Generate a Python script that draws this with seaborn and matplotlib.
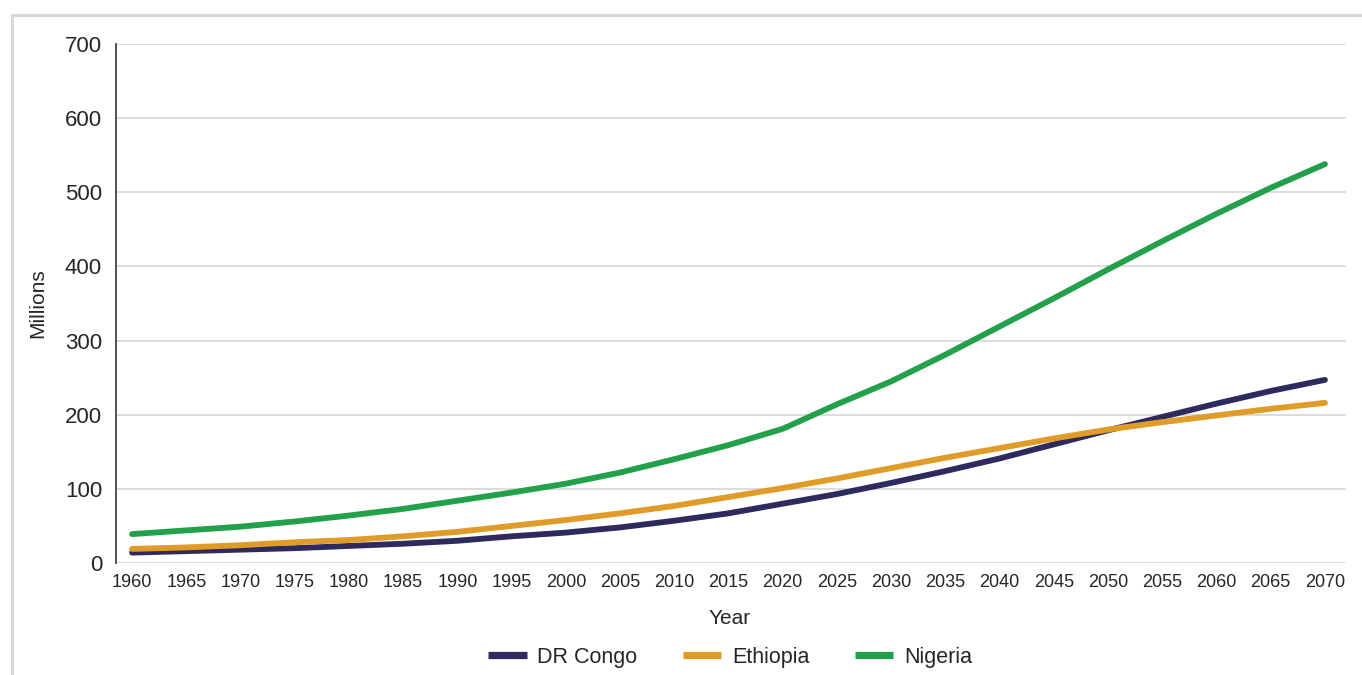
import matplotlib
matplotlib.use("Agg")
import matplotlib.pyplot as plt
import seaborn as sns
import pandas as pd
from matplotlib.lines import Line2D

years = list(range(1960, 2071, 5))
dr_congo = [14, 16, 18, 20, 23, 26, 30, 36, 41, 48, 57, 67, 80, 93, 108, 124, 141, 160, 179, 197, 215, 232, 247]
ethiopia = [19, 21, 24, 28, 31, 36, 42, 50, 58, 67, 77, 89, 101, 114, 128, 142, 155, 168, 180, 190, 199, 208, 216]
nigeria = [39, 44, 49, 56, 64, 73, 84, 95, 107, 122, 140, 159, 181, 214, 245, 281, 319, 357, 396, 434, 471, 506, 538]
series_names = ["DR Congo", "Ethiopia", "Nigeria"]
colors = ["#2e2a5e", "#e09c28", "#22a04a"]
y_ticks = [0, 100, 200, 300, 400, 500, 600, 700]

df = pd.DataFrame({
    "Year": years * 3,
    "Millions": dr_congo + ethiopia + nigeria,
    "Country": [series_names[0]] * len(years) + [series_names[1]] * len(years) + [series_names[2]] * len(years),
})

sns.set_theme(style="white")
plt.rcParams["font.family"] = ["Liberation Sans", "DejaVu Sans"]
text_col = "#262626"

fig = plt.figure(figsize=(13.62, 6.75), dpi=100)
ax = fig.add_axes([116 / 1362, 1 - 563 / 675, (1346 - 116) / 1362, (563 - 44) / 675])

sns.lineplot(data=df, x="Year", y="Millions", hue="Country", palette=dict(zip(series_names, colors)),
             linewidth=4.2, ax=ax, legend=False, solid_capstyle="round", solid_joinstyle="round")

ax.set_xlim(1958.52, 2071.94)
ax.set_ylim(0, 700)
ax.set_xticks(years)
ax.set_xticklabels([str(y) for y in years], fontsize=13, color=text_col)
ax.set_yticks(y_ticks)
ax.set_yticklabels([str(v) for v in y_ticks], fontsize=16, color=text_col)
ax.tick_params(axis="both", length=0)
ax.tick_params(axis="x", pad=8)
ax.tick_params(axis="y", pad=10)
ax.yaxis.grid(True, color="#d9d9d9", linewidth=1.3)
ax.set_axisbelow(True)
for s in ["top", "right", "bottom"]:
    ax.spines[s].set_visible(False)
ax.spines["left"].set_color("#444444")
ax.spines["left"].set_linewidth(1.3)

ax.set_xlabel("")
ax.set_ylabel("")
fig.text(730 / 1362, 1 - 619 / 675, "Year", fontsize=15, color=text_col, ha="center", va="center")
fig.text(38 / 1362, 1 - 303 / 675, "Millions", fontsize=15, color=text_col, ha="center", va="center", rotation=90)

handles = [Line2D([0], [0], color=c, linewidth=5.2, solid_capstyle="butt") for c in colors]
fig.legend(handles, series_names, loc="center", bbox_to_anchor=(730 / 1362, 1 - 657 / 675), ncol=3,
           frameon=False, fontsize=15.5, handlelength=1.8, handletextpad=0.5, columnspacing=2.1,
           labelcolor=text_col)

# outer frame (top and left edges visible)
fig.add_artist(Line2D([12 / 1362, 12 / 1362], [0, 1 - 15 / 675], transform=fig.transFigure,
                      color="#d9d9d9", linewidth=2.2))
fig.add_artist(Line2D([12 / 1362, 1], [1 - 15 / 675, 1 - 15 / 675], transform=fig.transFigure,
                      color="#d9d9d9", linewidth=2.2))

fig.savefig("out.png", dpi=100)
